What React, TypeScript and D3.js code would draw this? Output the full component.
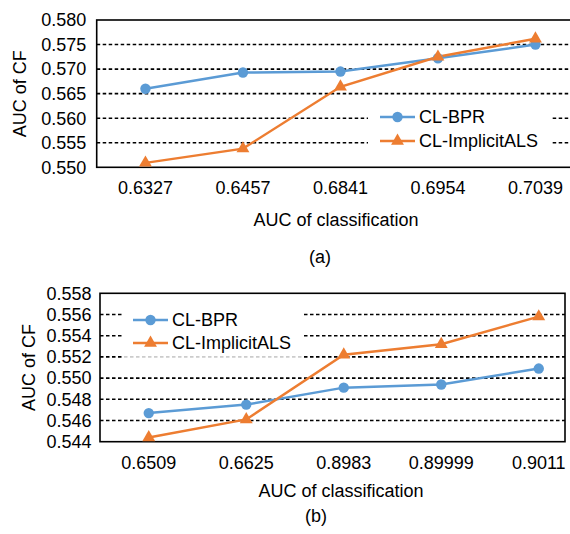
import React from "react";
import * as d3 from "d3";

// panel (a)
const catsA = ["0.6327", "0.6457", "0.6841", "0.6954", "0.7039"];
const bprA = [0.566, 0.5693, 0.5695, 0.5722, 0.575];
const alsA = [0.5509, 0.5538, 0.5664, 0.5725, 0.5762];
const ticksA = [0.55, 0.555, 0.56, 0.565, 0.57, 0.575, 0.58];

// panel (b)
const catsB = ["0.6509", "0.6625", "0.8983", "0.89999", "0.9011"];
const bprB = [0.5467, 0.5475, 0.5491, 0.5494, 0.5509];
const alsB = [0.5444, 0.5461, 0.5522, 0.5532, 0.5558];
const ticksB = [0.544, 0.546, 0.548, 0.55, 0.552, 0.554, 0.556, 0.558];

const seriesNames = ["CL-BPR", "CL-ImplicitALS"];
const BLUE = "#5B9BD5";
const ORANGE = "#ED7D31";
const FONT = "'Liberation Sans', Arial, sans-serif";

const triangle = d3.symbol().type(d3.symbolTriangle).size(72)();

const Marker = ({ kind, x, y }) =>
  kind === 0 ? (
    <circle cx={x} cy={y} r={5.2} fill={BLUE} />
  ) : (
    <path d={triangle} transform={`translate(${x},${y})`} fill={ORANGE} />
  );

const Panel = ({ cfg }) => {
  const { left, top, bottom, boxRight, band, cats, ticks, series, tickGap, yLabelX, xLabelX, xLabelY, caption, capX, capY, legend } = cfg;
  const x = d3
    .scaleBand()
    .domain(cats)
    .range([left, left + band * cats.length]);
  const y = d3
    .scaleLinear()
    .domain([ticks[0], ticks[ticks.length - 1]])
    .range([bottom, top]);
  const line = d3
    .line()
    .x((d, i) => x(cats[i]) + x.bandwidth() / 2)
    .y((d) => y(d));
  const fmt = d3.format(".3f");
  const colors = [BLUE, ORANGE];

  return (
    <g fontFamily={FONT} fontSize={18} fill="#000">
      {/* gridlines */}
      {ticks.slice(1, -1).map((t) => (
        <line key={t} x1={left} x2={boxRight} y1={y(t)} y2={y(t)} stroke="#000" strokeWidth={1.6} strokeDasharray="3.5,2.5" />
      ))}
      <rect x={left} y={top} width={boxRight - left} height={bottom - top} fill="none" stroke="#000" strokeWidth={1.6} />
      {/* legend background */}
      <rect x={legend.x0} y={legend.y0} width={legend.x1 - legend.x0} height={legend.y1 - legend.y0} fill="#fff" />
      {legend.fade && (
        <rect x={legend.x0} y={legend.y1} width={legend.x1 - legend.x0} height={3} fill="#fff" opacity={0.8} />
      )}
      {/* y tick labels */}
      {ticks.map((t) => (
        <text key={t} x={left - tickGap} y={y(t)} dy="0.35em" textAnchor="end">
          {fmt(t)}
        </text>
      ))}
      {/* x tick labels */}
      {cats.map((c) => (
        <text key={c} x={x(c) + x.bandwidth() / 2} y={bottom + 27} textAnchor="middle">
          {c}
        </text>
      ))}
      <text transform={`translate(${yLabelX},${(top + bottom) / 2}) rotate(-90)`} dy="0.35em" textAnchor="middle">
        AUC of CF
      </text>
      <text x={xLabelX} y={xLabelY} textAnchor="middle">
        AUC of classification
      </text>
      <text x={capX} y={capY} textAnchor="middle">
        {caption}
      </text>
      {/* series */}
      {series.map((vals, k) => (
        <path key={k} d={line(vals)} fill="none" stroke={colors[k]} strokeWidth={2.5} />
      ))}
      {series.map((vals, k) =>
        vals.map((v, i) => <Marker key={`${k}-${i}`} kind={k} x={x(cats[i]) + x.bandwidth() / 2} y={y(v)} />)
      )}
      {/* legend entries */}
      {seriesNames.map((name, k) => (
        <g key={name}>
          <line x1={legend.lx} x2={legend.lx + 35} y1={legend.rows[k]} y2={legend.rows[k]} stroke={colors[k]} strokeWidth={2.5} />
          <Marker kind={k} x={legend.lx + 17.5} y={legend.rows[k]} />
          <text x={legend.lx + 39} y={legend.rows[k]} dy="0.35em">
            {name}
          </text>
        </g>
      ))}
    </g>
  );
};

const cfgA = {
  left: 96.7,
  top: 20,
  bottom: 167.3,
  boxRight: 580,
  band: 97.5,
  cats: catsA,
  ticks: ticksA,
  series: [bprA, alsA],
  tickGap: 10.5,
  yLabelX: 20,
  xLabelX: 336,
  xLabelY: 226,
  caption: "(a)",
  capX: 320,
  capY: 263,
  legend: { x0: 368, x1: 552, y0: 101, y1: 158, lx: 380, rows: [117, 141], fade: false },
};

const cfgB = {
  left: 100,
  top: 293.3,
  bottom: 441.7,
  boxRight: 565,
  band: 97.5,
  cats: catsB,
  ticks: ticksB,
  series: [bprB, alsB],
  tickGap: 8.5,
  yLabelX: 28.5,
  xLabelX: 341,
  xLabelY: 497,
  caption: "(b)",
  capX: 316,
  capY: 522,
  legend: { x0: 122, x1: 303, y0: 302, y1: 355.5, lx: 133, rows: [320, 343], fade: true },
};

export default function App() {
  return (
    <svg
      width={570}
      height={534}
      style={{ position: "absolute", left: 0, top: 0, background: "#fff" }}
    >
      <Panel cfg={cfgA} />
      <Panel cfg={cfgB} />
    </svg>
  );
}
